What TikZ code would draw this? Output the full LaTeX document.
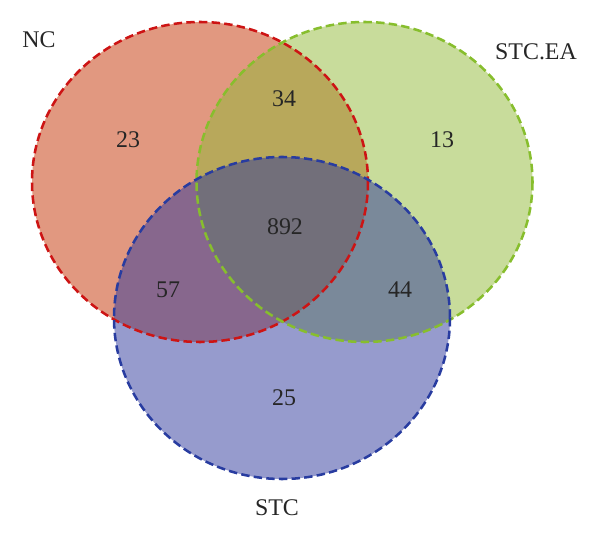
\documentclass[tikz,border=0pt]{standalone}
\usepackage{fontspec}
\setmainfont{Liberation Serif}
\usepackage{tikz}

\definecolor{ncfill}{RGB}{195,49,1}
\definecolor{eafill}{RGB}{145,185,55}
\definecolor{stcfill}{RGB}{45,55,155}
\definecolor{ncline}{RGB}{205,20,20}
\definecolor{ealine}{RGB}{135,190,45}
\definecolor{stcline}{RGB}{40,60,160}

\begin{document}
\begin{tikzpicture}[x=0.025cm,y=-0.025cm]
\tikzstyle{every node}=[font=\fontsize{17}{20}\selectfont,text=black!85]
\tikzstyle{setline}=[dash pattern=on 6pt off 3pt,line width=1.8pt]
\useasboundingbox (0,0) rectangle (600,537);

\fill[ncfill,fill opacity=0.5] (200,182) ellipse [x radius=168,y radius=160];
\fill[eafill,fill opacity=0.5] (364.5,182) ellipse [x radius=168,y radius=160];
\fill[stcfill,fill opacity=0.5] (282,318) ellipse [x radius=168,y radius=161];

\draw[setline,ncline] (200,182) ellipse [x radius=168,y radius=160];
\draw[setline,ealine] (364.5,182) ellipse [x radius=168,y radius=160];
\draw[setline,stcline] (282,318) ellipse [x radius=168,y radius=161];

\node (nc) at (39,40) {NC};
\node (stcea) at (536,52) {STC.EA};
\node (stc) at (277,508) {STC};

\node (n23) at (128,140) {23};
\node (n34) at (284,99) {34};
\node (n13) at (442,140) {13};
\node (n892) at (285,227) {892};
\node (n57) at (168,290) {57};
\node (n44) at (400,290) {44};
\node (n25) at (284,398) {25};
\end{tikzpicture}
\end{document}
